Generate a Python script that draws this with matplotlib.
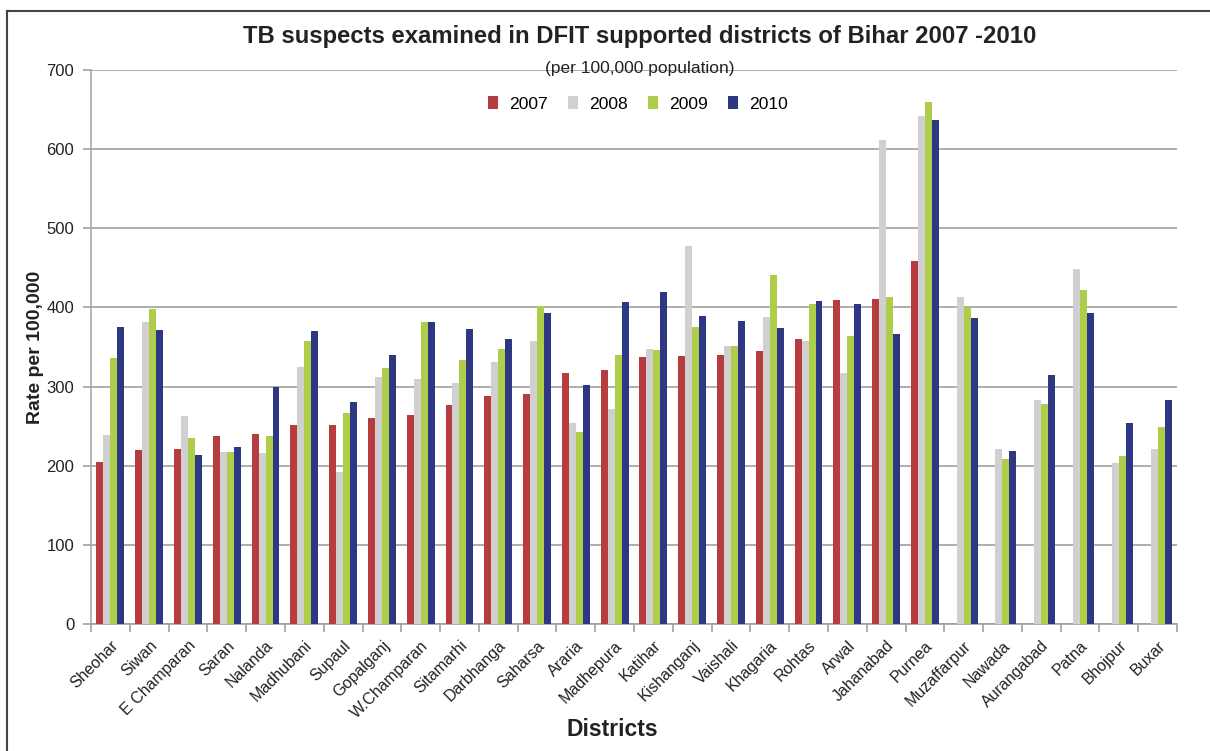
"""
TB suspects examined in DFIT supported districts of Bihar, 2007-2010
"""
import numpy as np
import matplotlib
matplotlib.use('Agg')
import matplotlib.pyplot as plt
from matplotlib.lines import Line2D

districts = ['Sheohar', 'Siwan', 'E Champaran', 'Saran', 'Nalanda', 'Madhubani',
             'Supaul', 'Gopalganj', 'W.Champaran', 'Sitamarhi', 'Darbhanga',
             'Saharsa', 'Araria', 'Madhepura', 'Katihar', 'Kishanganj',
             'Vaishali', 'Khagaria', 'Rohtas', 'Arwal', 'Jahanabad', 'Purnea',
             'Muzaffarpur', 'Nawada', 'Aurangabad', 'Patna', 'Bhojpur', 'Buxar']
nan = np.nan
rate_2007 = [205, 220, 221, 237, 240, 251, 252, 260, 264, 277, 288, 291, 317, 321,
             337, 339, 340, 345, 360, 409, 411, 459, nan, nan, nan, nan, nan, nan]
rate_2008 = [239, 382, 263, 217, 216, 325, 192, 312, 310, 305, 331, 357, 254, 272,
             348, 478, 351, 388, 357, 317, 612, 642, 413, 221, 283, 449, 204, 221]
rate_2009 = [336, 398, 235, 217, 237, 357, 267, 324, 381, 334, 348, 402, 243, 340,
             346, 375, 351, 441, 404, 364, 413, 659, 400, 208, 278, 422, 212, 249]
rate_2010 = [375, 372, 214, 224, 300, 370, 281, 340, 382, 373, 360, 393, 302, 407,
             420, 389, 383, 374, 408, 404, 366, 637, 387, 219, 314, 393, 254, 283]
years = ['2007', '2008', '2009', '2010']
colors = ['#b73c40', '#d0d0d0', '#aecd49', '#2e3784']

plt.rcParams['font.family'] = ['Liberation Sans', 'DejaVu Sans']

fig = plt.figure(figsize=(12.1, 7.51), dpi=100)
ax = fig.add_axes([91 / 1210, 1 - 624 / 751, (1177 - 91) / 1210, (624 - 70) / 751])

x = np.arange(len(districts))
w = 0.18
series = [rate_2007, rate_2008, rate_2009, rate_2010]
for k, (vals, c, lab) in enumerate(zip(series, colors, years)):
    ax.bar(x + (k - 1.5) * w, vals, w, color=c, label=lab, zorder=3)

ax.set_xlim(-0.5, len(districts) - 0.5)
ax.set_ylim(0, 700)
ax.set_yticks(np.arange(0, 701, 100))
ax.yaxis.grid(True, color='#a0a0a0', lw=1.2, zorder=0)
for s in ['top', 'right']:
    ax.spines[s].set_visible(False)
ax.spines['left'].set_color('#a8a8a8')
ax.spines['bottom'].set_color('#a0a0a0')
ax.spines['left'].set_linewidth(1.2)
ax.spines['bottom'].set_linewidth(1.2)

# ticks sit between the groups, labels sit under the groups
ax.set_xticks(np.arange(len(districts) + 1) - 0.5, minor=False)
ax.set_xticklabels([])
ax.set_xticks(x, minor=True)
ax.set_xticklabels(districts, minor=True, rotation=45, ha='right',
                   rotation_mode='anchor', fontsize=11.5, color='#222222')
ax.tick_params(axis='x', which='major', length=6, color='#a0a0a0', width=1.2)
ax.tick_params(axis='x', which='minor', length=0, pad=10)
ax.tick_params(axis='y', length=6, color='#a0a0a0', width=1.2, labelsize=12,
               labelcolor='#222222', pad=6)

ax.set_ylabel('Rate per 100,000', fontsize=14, fontweight='bold', color='#222222')
ax.yaxis.set_label_coords((44 - 91) / 1086, 0.5)
fig.text(612 / 1210, 1 - 729 / 751, 'Districts', fontsize=16.5, fontweight='bold',
         ha='center', va='center', color='#222222')

fig.text(640 / 1210, 1 - 37 / 751,
         'TB suspects examined in DFIT supported districts of Bihar 2007 -2010',
         fontsize=17.2, fontweight='bold', ha='center', va='center',
         color='#222222')
fig.text(640 / 1210, 1 - 68 / 751, '(per 100,000 population)', fontsize=12.5,
         ha='center', va='center', color='#222222')

ax.legend(loc='center', bbox_to_anchor=(638 / 1210, 1 - 104 / 751),
          bbox_transform=fig.transFigure, ncol=4, frameon=False, fontsize=12.6,
          handlelength=0.55, handleheight=0.75, handletextpad=0.65,
          columnspacing=1.15)

# outer frame of the chart
fig.add_artist(Line2D([7 / 1210, 1], [1 - 11 / 751, 1 - 11 / 751],
                      transform=fig.transFigure, color='#444444', lw=1.5))
fig.add_artist(Line2D([7 / 1210, 7 / 1210], [0, 1 - 11 / 751],
                      transform=fig.transFigure, color='#444444', lw=1.5))

fig.savefig('out.png', dpi=100)
